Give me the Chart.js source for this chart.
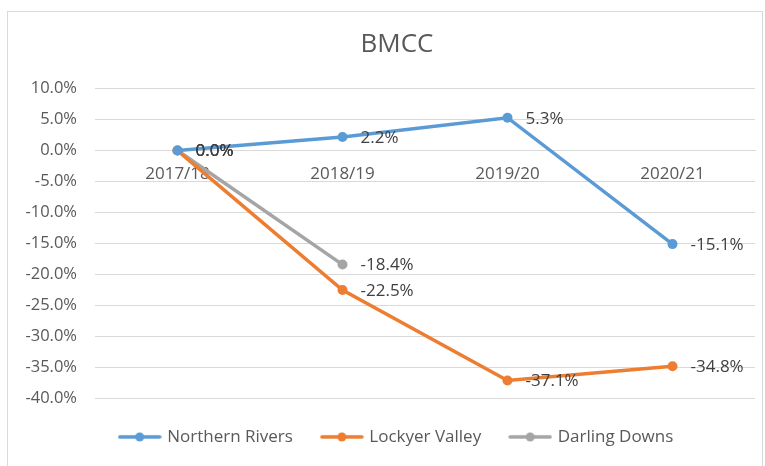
<!DOCTYPE html>
<html>
<head>
<meta charset="utf-8">
<script src="https://cdn.jsdelivr.net/npm/chart.js@4.4.1/dist/chart.umd.min.js"></script>
<style>
  html, body { margin: 0; padding: 0; background: #fff; }
  #wrap { position: relative; width: 765px; height: 466px; overflow: hidden; }
  #frame { position: absolute; left: 7px; top: 11px; width: 754px; height: 470px; border: 1px solid #d9d9d9; pointer-events: none; }
</style>
</head>
<body>
<div id="wrap">
  <canvas id="chart" width="765" height="466"></canvas>
  <div id="frame"></div>
</div>
<script>
// BMCC chart data
var years = ['2017/18', '2018/19', '2019/20', '2020/21'];
var northernRivers = [0.0, 2.2, 5.3, -15.1];
var lockyerValley = [0.0, -22.5, -37.1, -34.8];
var darlingDowns = [0.0, -18.4, null, null];

var seriesNames = ['Northern Rivers', 'Lockyer Valley', 'Darling Downs'];
var seriesColors = ['#5b9bd5', '#ed7d31', '#a5a5a5'];

var FONT = "'Open Sans', 'Noto Sans', sans-serif";

// legend marker: line with a dot in the middle
function legendMarker(color){
    var c = document.createElement('canvas');
    c.width = 44;
    c.height = 10;
    var g = c.getContext('2d');
    g.strokeStyle = color;
    g.lineWidth = 3.5;
    g.lineCap = 'round';
    g.beginPath();
    g.moveTo(2, 5);
    g.lineTo(42, 5);
    g.stroke();
    g.fillStyle = color;
    g.beginPath();
    g.arc(22, 5, 4.5, 0, Math.PI * 2);
    g.fill();
    return c;
}

// value labels to the right of each point
var valueLabels = {
    id: 'valueLabels',
    afterDatasetsDraw(chart){
        var ctx = chart.ctx;
        ctx.save();
        ctx.font = '17px ' + FONT;
        ctx.fillStyle = '#404040';
        ctx.textAlign = 'left';
        ctx.textBaseline = 'middle';
        chart.data.datasets.forEach(function(ds, i){
            var meta = chart.getDatasetMeta(i);
            meta.data.forEach(function(pt, j){
                var v = ds.data[j];
                if(v === null || v === undefined) return;
                ctx.fillText(v.toFixed(1) + '%', pt.x + 18, pt.y + 1);
            });
        });
        ctx.restore();
    }
};

// nudge title and legend so they sit over/under the plot like the original
var blockShift = {
    id: 'blockShift',
    afterLayout(chart){
        if(chart.legend){
            chart.legend.left = 39;
        }
        if(chart.titleBlock){
            chart.titleBlock.left = 39;
        }
    }
};

var datasets = [northernRivers, lockyerValley, darlingDowns].map(function(d, i){
    return {
        label: seriesNames[i],
        data: d,
        borderColor: seriesColors[i],
        backgroundColor: seriesColors[i],
        borderWidth: 3.5,
        pointRadius: 5,
        pointHoverRadius: 5,
        pointBorderWidth: 0,
        tension: 0
    };
});

datasets[0].order = 1;
datasets[1].order = 2;
datasets[2].order = 3;

var ctx = document.getElementById('chart');

new Chart(ctx, {
    type: 'line',
    data: {
        labels: years,
        datasets: datasets
    },
    options: {
        responsive: false,
        animation: false,
        layout: {
            padding: { top: 29, left: 0, right: 10, bottom: 10.6 }
        },
        plugins: {
            title: {
                display: true,
                text: 'BMCC',
                color: '#595959',
                font: { family: FONT, size: 26, weight: 'normal' },
                padding: { top: 0, bottom: 28.4 }
            },
            legend: {
                display: true,
                position: 'bottom',
                align: 'center',
                labels: {
                    color: '#595959',
                    font: { family: FONT, size: 17 },
                    usePointStyle: true,
                    pointStyleWidth: 38,
                    padding: 30,
                    generateLabels: function(chart){
                        return chart.data.datasets.map(function(ds, i){
                            return {
                                text: ds.label,
                                pointStyle: legendMarker(ds.borderColor),
                                fillStyle: ds.borderColor,
                                strokeStyle: ds.borderColor,
                                lineWidth: 0,
                                hidden: false,
                                datasetIndex: i,
                                fontColor: '#595959'
                            };
                        });
                    }
                }
            },
            tooltip: { enabled: false }
        },
        scales: {
            x: {
                type: 'category',
                position: { y: 0 },
                offset: true,
                grid: { display: false, drawTicks: false },
                border: { display: true, color: '#d9d9d9' },
                ticks: {
                    color: '#595959',
                    font: { family: FONT, size: 17 },
                    padding: 13
                }
            },
            y: {
                min: -40,
                max: 10,
                afterFit: function(scale){ scale.width = 95; },
                grid: { color: '#d9d9d9', drawTicks: false },
                border: { display: false },
                ticks: {
                    stepSize: 5,
                    color: '#595959',
                    font: { family: FONT, size: 16.5 },
                    padding: 18,
                    callback: function(v){ return v.toFixed(1) + '%'; }
                }
            }
        }
    },
    plugins: [valueLabels, blockShift]
});
</script>
</body>
</html>
